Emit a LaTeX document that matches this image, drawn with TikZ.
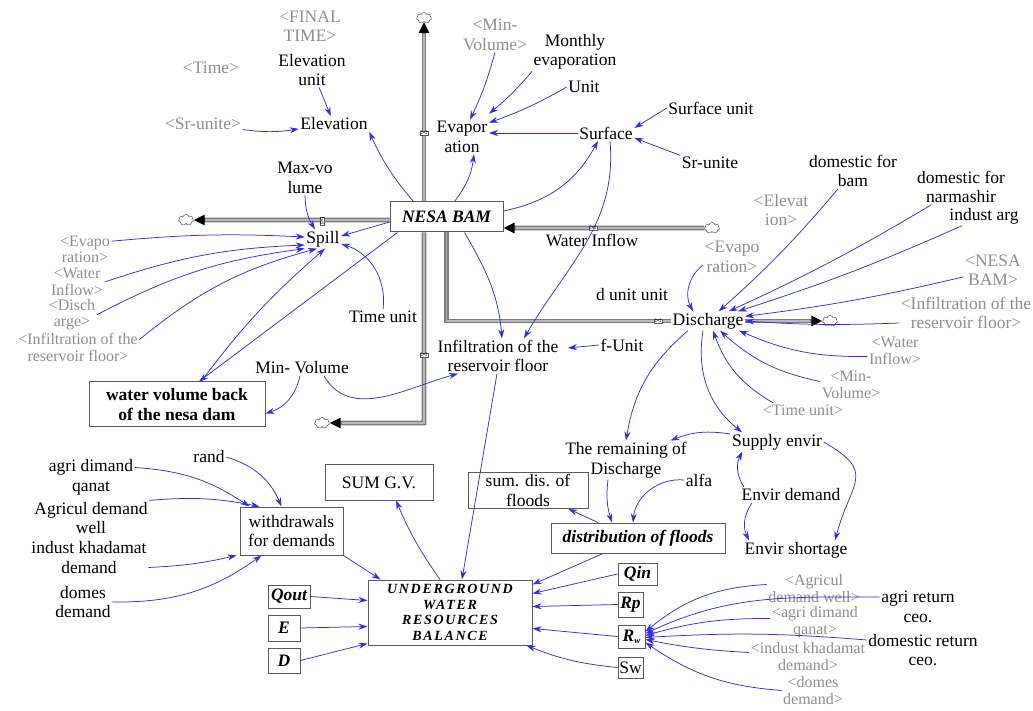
\documentclass[tikz,border=0pt]{standalone}
\usepackage{fontspec}
\setmainfont{Liberation Serif}
\usepackage{tikz}
\usetikzlibrary{positioning,arrows.meta,calc,backgrounds,shapes.symbols}
\usepackage{xcolor}
\definecolor{linkc}{HTML}{2E2EE6}
\definecolor{ghostc}{HTML}{8E8E8E}
\definecolor{pipedark}{HTML}{7C7C7C}
\definecolor{pipelight}{HTML}{B8B8B8}
\definecolor{boxc}{HTML}{5A5A5A}
\newcommand{\dgfont}{\fontsize{17.5}{19.5}\selectfont}
\tikzset{
  var/.style={align=center, inner sep=1.5pt, font=\dgfont},
  shadowvar/.style={var, text=ghostc},
  shadowstack/.style={shadowvar, font=\fontsize{16}{16.4}\selectfont},
  stock/.style={draw=boxc, fill=white, line width=1pt, align=center,
              inner sep=2pt, font=\dgfont},
  link/.style={->, draw=linkc, line width=0.75pt},
  pipe/.style={draw=pipedark, line width=4.6pt,
              -{Triangle[length=11pt,width=10pt,color=black]},
              postaction={draw=pipelight, line width=1.6pt, -, shorten >=12pt}},
  valve/.style={draw=black!65, fill=white, inner sep=0.4pt,
              font=\fontsize{7}{7}\selectfont},
  sink/.style={cloud, cloud puffs=7, aspect=1.4, draw=black!70, fill=white,
              inner sep=0pt, minimum width=15pt, minimum height=11pt, line width=0.5pt},
  >={Stealth[length=9pt,width=6pt]},
}

\begin{document}
\begin{tikzpicture}[x=1pt,y=1pt]
\useasboundingbox (0,0) rectangle (1033,710);
% stocks
\node[stock, minimum width=113pt, minimum height=30pt, font=\dgfont\bfseries\itshape] (nesa) at (446.5,493) {NESA BAM};
\node[stock, minimum width=176pt, minimum height=45pt, font=\dgfont\bfseries] (wvol) at (177,305.5) {water volume back\\of the nesa dam};
\node[stock, minimum width=164pt, minimum height=65pt, inner sep=0.5pt,
      font=\fontsize{14}{15.4}\selectfont\bfseries\itshape\addfontfeature{LetterSpace=12}] (ugw) at (450,97.5) {UNDERGROUND\\WATER\\RESOURCES\\BALANCE};
\node[stock, minimum width=103pt, minimum height=48pt] (withdr) at (291.5,179) {withdrawals\\for demands};
\node[stock, minimum width=108pt, minimum height=35pt] (sumgv) at (379,227.5) {SUM G.V.};
\node[stock, minimum width=120pt, minimum height=35pt] (sumdis) at (528,219.5) {sum. dis. of\\floods};
\node[stock, minimum width=174pt, minimum height=30pt, font=\dgfont\bfseries\itshape] (dist) at (638,172) {distribution of floods};
\node[stock, minimum width=39pt, minimum height=22pt, font=\dgfont\bfseries\itshape] (qin) at (637.5,136) {Qin};
\node[stock, minimum width=25pt, minimum height=25pt, font=\dgfont\bfseries\itshape] (rp) at (630.5,105.5) {Rp};
\node[stock, minimum width=27pt, minimum height=23pt, font=\dgfont\bfseries\itshape] (rw) at (631.5,73.5) {R\raisebox{-2pt}{\fontsize{9}{9}\selectfont w}};
\node[stock, minimum width=25pt, minimum height=21pt, inner sep=0.5pt] (sw) at (630.5,42.5) {Sw};
\node[stock, minimum width=42pt, minimum height=23pt, font=\dgfont\bfseries\itshape] (qout) at (289,113.5) {Qout};
\node[stock, minimum width=32pt, minimum height=26pt, font=\dgfont\bfseries\itshape] (eBox) at (284,82) {E};
\node[stock, minimum width=32pt, minimum height=25pt, font=\dgfont\bfseries\itshape] (dBox) at (284,49.5) {D};

% clouds and valves
\node[sink] (cTop) at (424,692) {};
\node[sink] (cSpill) at (186,490) {};
\node[sink] (cIn) at (712,482) {};
\node[sink] (cOut) at (830,389) {};
\node[sink] (cLow) at (322,287) {};

% variables, upper part
\node[shadowvar] (ftime) at (310,684) {<FINAL\\TIME>};
\node[shadowvar] (time) at (211,642) {<Time>};
\node[var] (elevunit) at (312,640) {Elevation\\unit};
\node[var] (elev) at (334,586) {Elevation};
\node[shadowvar] (srunite1) at (203,586) {<Sr-unite>};
\node[var] (maxvol) at (305,532) {Max-vo\\lume};
\node[var] (spill) at (323,471) {Spill};
\node[shadowstack] (sEvap) at (85,460.8) {<Evapo\\ration>};
\node[shadowstack] (sWater) at (77,428) {<Water\\Inflow>};
\node[shadowstack] (sDisch) at (72,395.2) {<Disch\\arge>};
\node[shadowstack] (sInfil) at (78,362.4) {<Infiltration of the\\reservoir floor>};
\node[var] (timeunit) at (383,393) {Time unit};
\node[var] (minvol) at (302,342) {Min- Volume};
\node[shadowvar] (sMin1) at (495,675) {<Min-\\Volume>};
\node[var] (monthly) at (575,658) {Monthly\\evaporation};
\node[var] (unit) at (584,623) {Unit};
\node[var] (evap) at (462,573) {Evapor\\ation};
\node[var] (surface) at (606,577) {Surface};
\node[var] (surfunit) at (711,602) {Surface unit};
\node[var] (srunite) at (710,547) {Sr-unite};
\node[var] (wilabel) at (592,470) {Water Inflow};
\node[var] (dunit) at (632,415) {d unit unit};
\node[var, fill=white] (discharge) at (708,389) {Discharge};
\node[var] (infil) at (498,354) {Infiltration of the\\reservoir floor};
\node[var] (funit) at (622,365) {f-Unit};
\node[var] (dombam) at (853,539) {domestic for\\bam};
\node[var] (domnar) at (961,523) {domestic for\\narmashir};
\node[var] (indarg) at (984,494) {indust arg};
\node[shadowvar] (sElev) at (781,500) {<Elevat\\ion>};
\node[shadowvar] (sEvap2) at (732,453) {<Evapo\\ration>};
\node[shadowvar] (sNesa) at (993,440) {<NESA\\BAM>};
\node[shadowvar] (sInfil2) at (966,397) {<Infiltration of the\\reservoir floor>};
\node[shadowstack, font=\fontsize{16}{17}\selectfont] (sWater2) at (895,359.5) {<Water\\Inflow>};
\node[shadowstack, font=\fontsize{16}{17}\selectfont] (sMin2) at (851,325.5) {<Min-\\Volume>};
\node[shadowstack] (sTime) at (803,300) {<Time unit>};

\node[valve] (vEvap) at (424,577) {$\bowtie$};
\node[valve, rotate=90] (vSpill) at (322,489) {$\bowtie$};
\node[valve] (vInfil) at (424,355) {$\bowtie$};
\node[valve] (vOut) at (658,389) {$\bowtie$};
\node[valve] (vIn) at (593,482) {$\bowtie$};

% variables, lower part
\node[var] (remain) at (626,250) {The remaining of\\Discharge};
\node[var] (alfa) at (699,230) {alfa};
\node[var] (supply) at (777,268) {Supply envir};
\node[var] (edemand) at (791,215) {Envir demand};
\node[var] (eshort) at (796,160) {Envir shortage};
\node[var] (rand) at (209,253) {rand};
\node[var] (agriq) at (91,232.5) {agri dimand\\qanat};
\node[var] (agriw) at (91,192) {Agricul demand\\well};
\node[var] (indkh) at (89,152.5) {indust khadamat\\demand};
\node[var] (domes) at (83,108) {domes\\demand};
\node[shadowstack, font=\fontsize{16}{17}\selectfont] (sAgriw) at (814,121.5) {<Agricul\\demand well>};
\node[var] (agriret) at (918,103) {agri return\\ceo.};
\node[shadowstack, font=\fontsize{16}{17}\selectfont] (sAgriq) at (815,87.5) {<agri dimand\\qanat>};
\node[var] (domret) at (923,60) {domestic return\\ceo.};
\node[shadowstack, font=\fontsize{16}{17}\selectfont] (sIndkh) at (808,53.5) {<indust khadamat\\demand>};
\node[shadowstack, font=\fontsize{16}{17}\selectfont] (sDomes) at (813,19.5) {<domes\\demand>};

% pipes
\begin{scope}[on background layer]
\draw[pipe] (cTop |- nesa.north) -- (cTop);
\draw[pipe] (cTop |- nesa.south) -- (cTop |- cLow) -- (cLow);
\draw[pipe] (nesa.west |- cSpill) -- (cSpill);
\draw[pipe] (cIn) -- (nesa.east |- cIn);
\draw[pipe] (nesa.south) |- (cOut);
\end{scope}

% links: elevation, spill
\draw[link] (elevunit) -- (elev);
\draw[link] (srunite1) to[bend right=8] (elev);
\draw[link] ([xshift=-33pt]nesa.north) to[bend left=8] (elev.south east);
\draw[link] (maxvol.south) to[bend right=15] ([xshift=-8pt]spill.north);
\draw[link] ([yshift=8pt]sEvap.east) to[bend left=4] ([yshift=2pt]spill.west);
\draw[link] (sWater.east) to[bend left=8] ([yshift=-6pt]spill.west);
\draw[link] (sDisch.east) to[bend left=10] (spill.south west);
\draw[link] ([yshift=8pt]sInfil.east) to[bend left=12] ([xshift=-6pt]spill.south);
\draw[link] ([yshift=-5pt]nesa.west) -- ([yshift=3pt]spill.east);
\draw[link] (timeunit.north) to[bend right=40] ([yshift=-5pt]spill.east);
\draw[link] ([xshift=8pt]nesa.south west) -- ([xshift=22pt]wvol.north);
\draw[link] ([xshift=24pt]wvol.north) to[bend left=6] ([xshift=2pt]spill.south);
\draw[link] ([xshift=-2pt]minvol.south) to[bend left=30] ([yshift=-9pt]wvol.east);
\draw[link] ([xshift=22pt]minvol.south) to[out=-60,in=195] ([xshift=22pt]infil.south west);

% links: evaporation, surface, infiltration
\draw[link] ([xshift=8pt]nesa.north) to[bend right=15] ([xshift=12pt]evap.south);
\draw[link] (sMin1.south) to[bend left=5] ([xshift=8pt]evap.north);
\draw[link] (monthly.south west) to[bend left=5] ([yshift=6pt]evap.north east);
\draw[link] (unit.west) to[bend left=5] ([yshift=-3pt]evap.north east);
\draw[link] (surface.west) -- ([yshift=4pt]evap.east);
\draw[link] (surfunit.west) -- ([yshift=5pt]surface.east);
\draw[link] (srunite.north west) -- ([yshift=-5pt]surface.east);
\draw[link] ([yshift=6pt]nesa.east) to[bend right=25] ([xshift=-8pt]surface.south);
\draw[link] ([xshift=4pt]surface.south) to[out=-85,in=60] ([xshift=26pt]infil.north);
\draw[link] ([xshift=18pt]nesa.south) to[out=-60,in=95] ([xshift=4pt]infil.north);
\draw[link] (funit.west) -- ([xshift=8pt,yshift=8pt]infil.east);
\draw[link] ([xshift=-1pt]infil.south) -- ([xshift=12pt]ugw.north);

% links: discharge
\draw[link] ([yshift=-8pt]sEvap2.west) to[bend right=40] ([xshift=-15pt]discharge.north);
\draw[link] (dombam) to[bend left=4] (discharge);
\draw[link] (domnar) to[bend left=3] (discharge);
\draw[link] (indarg) to[bend left=3] (discharge);
\draw[link] (sNesa) to[bend left=3] (discharge);
\draw[link] ([yshift=-10pt]sInfil2.west) to[bend left=3] (discharge.east);
\draw[link] ([yshift=-6pt]sWater2.west) to[bend left=12] ([xshift=-6pt]discharge.south east);
\draw[link] ([yshift=3pt]sMin2.west) to[bend left=15] ([xshift=-25pt]discharge.south east);
\draw[link] ([xshift=12pt]sTime.north west) to[bend left=20] ([xshift=5pt]discharge.south);
\draw[link] ([xshift=17pt]discharge.south west) to[bend right=20] (remain.north);
\draw[link] ([xshift=-5pt]discharge.south) to[bend right=30] ([xshift=-35pt]supply.north);
\draw[link] ([yshift=8pt]supply.west) to[bend right=15] ([xshift=-18pt]remain.north east);
\draw[link] ([xshift=4pt]edemand.north west) to[bend left=30] ([xshift=12pt]supply.south west);
\draw[link] ([xshift=12pt]edemand.south west) to[bend right=30] ([xshift=6pt]eshort.north west);
\draw[link] (supply.east) to[out=-30,in=75,looseness=1.6] ([xshift=-14pt]eshort.north east);

% links: floods and balance
\draw[link] ([xshift=-18pt]remain.south) to[bend right=12] ([xshift=-26pt]dist.north);
\draw[link] (alfa.west) to[bend right=45] ([xshift=-5pt]dist.north);
\draw[link] ([xshift=-40pt]dist.north) -- ([xshift=-20pt]sumdis.south east);
\draw[link] ([xshift=-35pt]dist.south) -- ([yshift=-5pt]ugw.north east);
\draw[link] (qin.west) -- ([yshift=19pt]ugw.east);
\draw[link] (rp.west) -- ([yshift=6pt]ugw.east);
\draw[link] (rw.west) -- ([yshift=-16pt]ugw.east);
\draw[link] (sw.west) to[bend left=8] ([xshift=-6pt]ugw.south east);
\draw[link] ([yshift=4pt]sAgriw.west) to[bend right=18] ([yshift=5pt]rw.east);
\draw[link] ([yshift=10pt]agriret.west) to[out=180,in=25] ([yshift=3pt]rw.east);
\draw[link] ([yshift=4pt]sAgriq.west) to[bend right=8] ([yshift=1pt]rw.east);
\draw[link] ([yshift=10pt]domret.west) to[bend right=4] ([yshift=-1pt]rw.east);
\draw[link] ([yshift=4pt]sIndkh.west) to[bend left=4] ([yshift=-3pt]rw.east);
\draw[link] (sDomes.west) to[bend left=15] ([yshift=-6pt]rw.east);
\draw[link] ([xshift=-10pt]ugw.north) to[bend left=6] ([xshift=17pt]sumgv.south);
\draw[link] (withdr.south east) -- ([xshift=13pt]ugw.north west);
\draw[link] (qout.east) -- ([yshift=12pt]ugw.west);
\draw[link] (eBox.east) -- ([yshift=-14pt]ugw.west);
\draw[link] (dBox.east) -- ([yshift=2pt]ugw.south west);

% links: withdrawals
\draw[link] ([yshift=10pt]agriq.east) to[bend left=15] ([xshift=10pt]withdr.north west);
\draw[link] (agriw.north east) to[bend left=8] ([xshift=20pt]withdr.north west);
\draw[link] (rand.east) to[bend left=25] ([xshift=42pt]withdr.north west);
\draw[link] ([yshift=-10pt]indkh.east) to[bend right=5] ([xshift=-3pt]withdr.south west);
\draw[link] (domes.east) to[bend right=18] ([xshift=22pt]withdr.south west);
\end{tikzpicture}
\end{document}
